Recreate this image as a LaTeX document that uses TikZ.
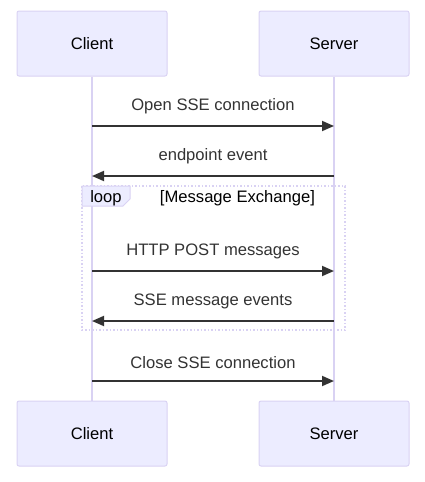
\documentclass[tikz,border=0pt]{standalone}
\usepackage{fontspec}
\setmainfont{Liberation Sans}
\usetikzlibrary{positioning, arrows.meta}

\definecolor{actorfill}{HTML}{ECECFF}
\definecolor{actorline}{HTML}{D9D2F3}
\definecolor{msgline}{HTML}{333333}

\tikzset{
    actor/.style={draw=actorline, fill=actorfill, line width=1pt, rounded corners=2pt,
        minimum width=150pt, minimum height=65pt, text=black},
    lifeline/.style={draw=actorline, line width=1.5pt},
    msg/.style={draw=msgline, line width=1.8pt, -{Triangle[length=12pt,width=10pt]}},
    msglabel/.style={midway, above=8.5pt, text=msgline, inner sep=3pt},
    loopframe/.style={draw=actorline, line width=1.5pt, dotted},
}

\begin{document}
\begin{tikzpicture}[x=1pt, y=-1pt, font=\fontsize{16.6}{19}\selectfont]

            \useasboundingbox (0,0) rectangle (424,482);

            % Actors, top and bottom
            \node[actor] (clienttop) at (92,43.5) {Client};
            \node[actor] (servertop) at (334,43.5) {Server};
            \node[actor] (clientbot) at (92,433.5) {Client};
            \node[actor] (serverbot) at (334,433.5) {Server};

            % Lifelines
            \draw[lifeline] (clienttop.south) -- (clientbot.north);
            \draw[lifeline] (servertop.south) -- (serverbot.north);

            % Loop frame
            \draw[loopframe] (82,186) rectangle (345,330);
            \draw[draw=actorline, fill=actorfill, line width=1pt]
                (82,186) -- (130,186) -- (130,199) -- (123,206) -- (82,206) -- cycle;
            \node[text=black] (looplabel) at (106,198.5) {loop};
            \node[text=black] (loopcond) at (237.5,198.5) {[Message Exchange]};

            % Points on the lifelines
            \coordinate (c1) at (clienttop |- 0,126);
            \coordinate (s1) at (servertop |- 0,126);
            \coordinate (c2) at (clienttop |- 0,176);
            \coordinate (s2) at (servertop |- 0,176);
            \coordinate (c3) at (clienttop |- 0,271);
            \coordinate (s3) at (servertop |- 0,271);
            \coordinate (c4) at (clienttop |- 0,321);
            \coordinate (s4) at (servertop |- 0,321);
            \coordinate (c5) at (clienttop |- 0,381);
            \coordinate (s5) at (servertop |- 0,381);

            % Messages
            \draw[msg] (c1) -- node[msglabel] {Open SSE connection} (s1);
            \draw[msg] (s2) -- node[msglabel] {endpoint event} (c2);
            \draw[msg] (c3) -- node[msglabel] {HTTP POST messages} (s3);
            \draw[msg] (s4) -- node[msglabel] {SSE message events} (c4);
            \draw[msg] (c5) -- node[msglabel] {Close SSE connection} (s5);

        \end{tikzpicture}
\end{document}
